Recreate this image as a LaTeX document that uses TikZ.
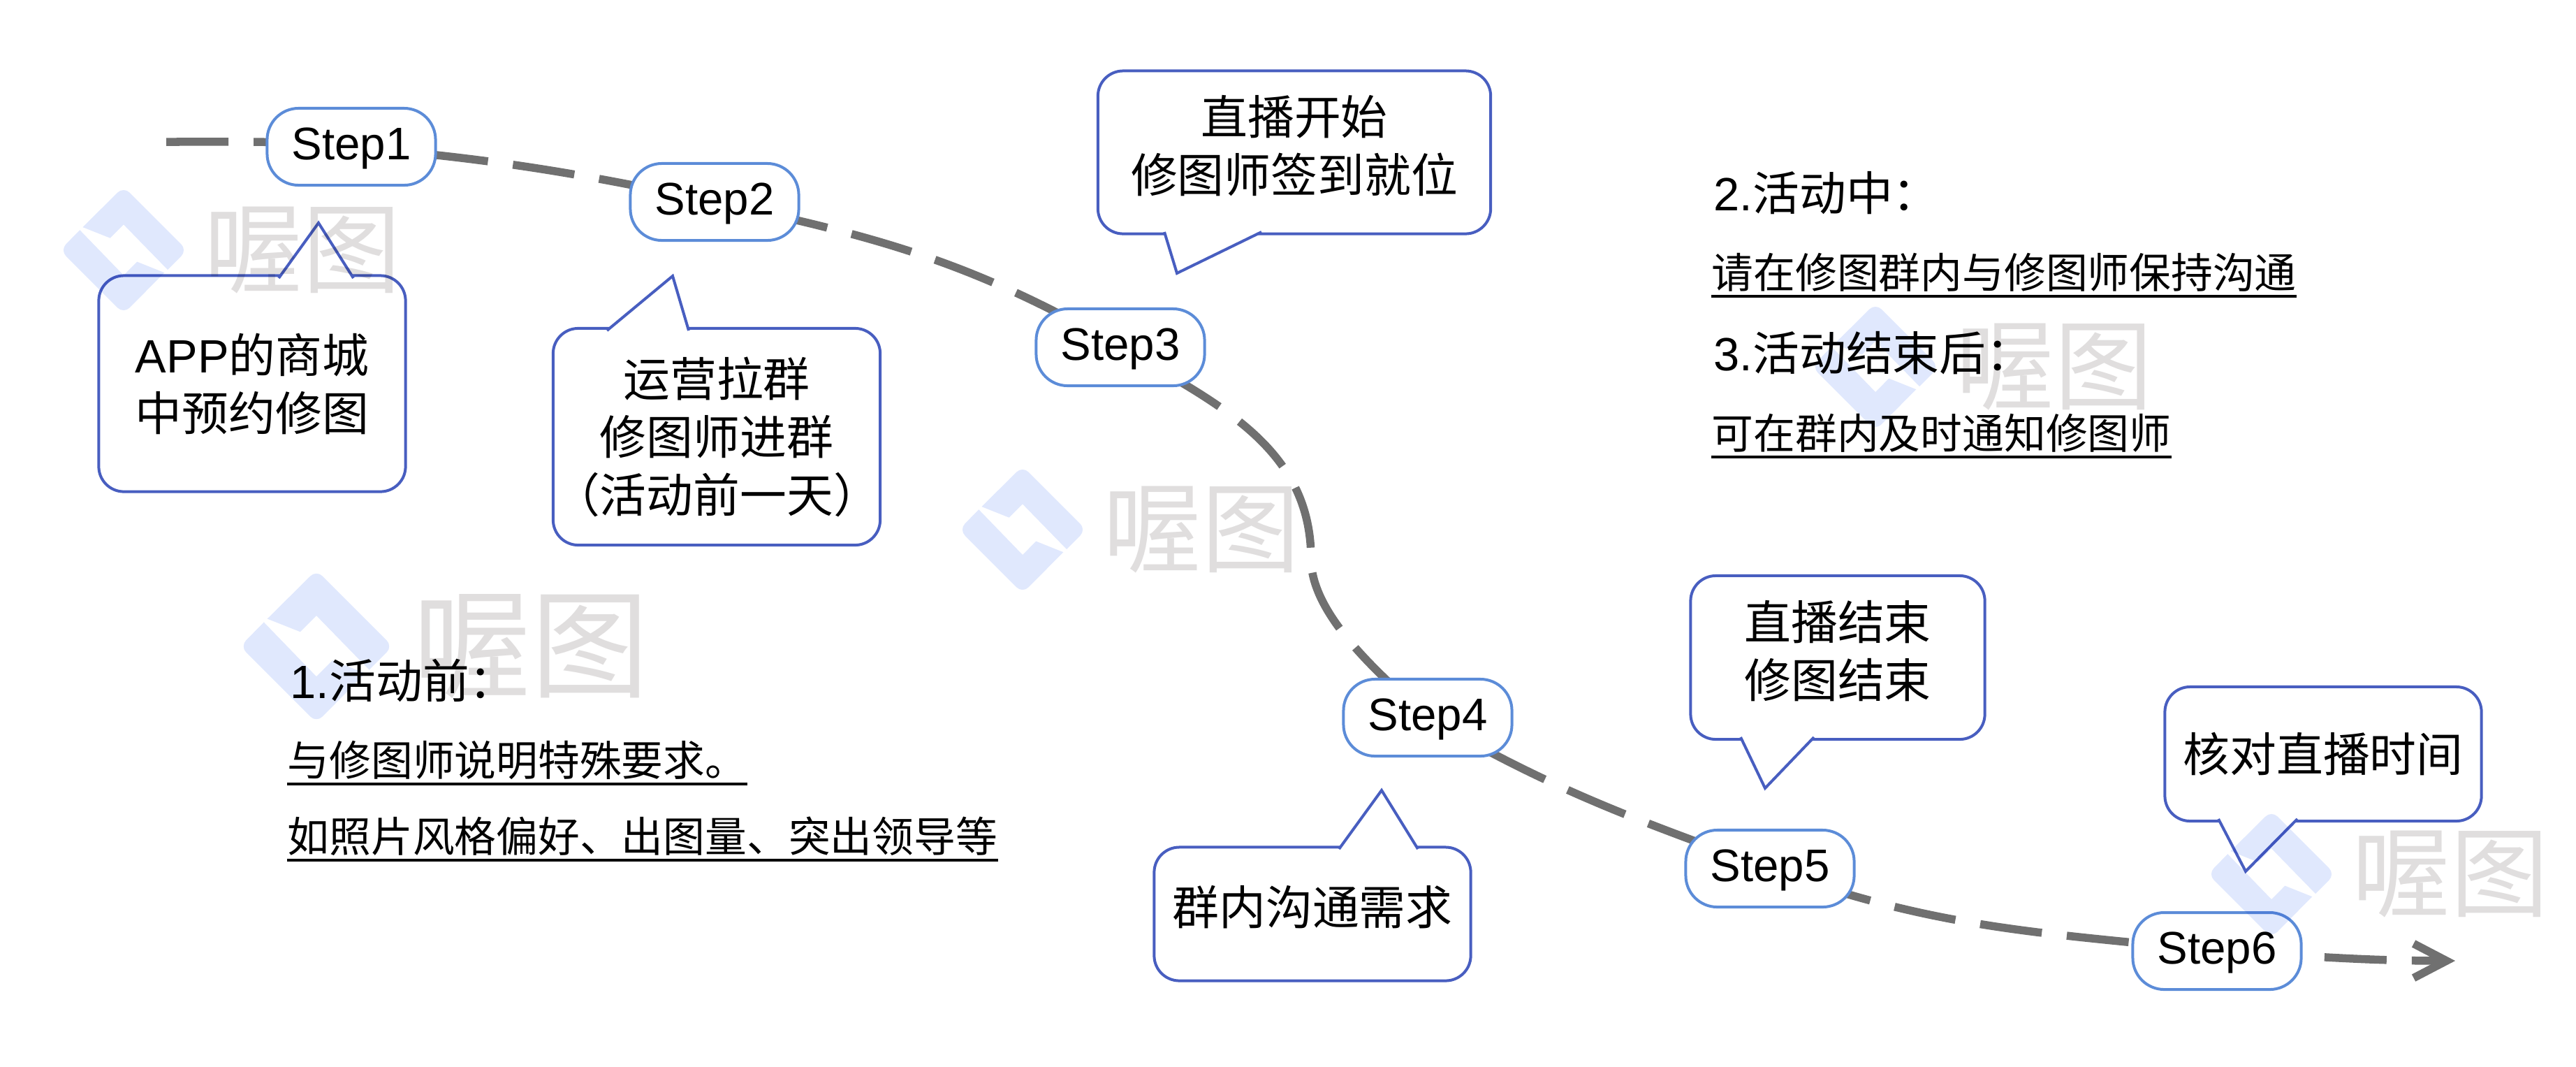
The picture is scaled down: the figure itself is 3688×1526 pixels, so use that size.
\documentclass[tikz,border=0pt]{standalone}
\usepackage{fontspec}
\usetikzlibrary{arrows.meta, backgrounds}
\setmainfont{Liberation Sans}
\newfontfamily\latn{Liberation Sans}
\newfontfamily\cjk{Noto Sans CJK SC}
\definecolor{stepBlue}{RGB}{92,140,216}
\definecolor{noteBlue}{RGB}{72,94,192}
\definecolor{trackGray}{RGB}{112,112,112}
\definecolor{markBlue}{RGB}{224,232,253}
\definecolor{markGray}{RGB}{224,222,222}

\begin{document}
\begin{tikzpicture}[
    x=0.01cm, y=0.01cm,
    stepbox/.style={rectangle, draw=stepBlue, line width=0.04cm, fill=white, rounded corners=0.45cm, minimum width=2.41cm, minimum height=1.10cm, inner sep=0pt, text height=0.51cm, font=\latn\fontsize{18.6}{22}\selectfont},
    notebox/.style={rectangle, draw=noteBlue, line width=0.04cm, fill=white, rounded corners=0.36cm, align=center, inner sep=0pt, font=\cjk\fontsize{19}{23.6}\selectfont},
    notetip/.style={draw=noteBlue, line width=0.04cm, fill=white, line join=miter},
    track/.style={draw=trackGray, line width=0.115cm, dash pattern=on 0.89cm off 0.36cm},
    notehead/.style={anchor=base west, inner sep=0pt, font=\cjk\fontsize{19}{23}\selectfont},
    noteline/.style={anchor=base west, inner sep=0pt, text depth=0.115cm, font=\cjk\fontsize{17}{20}\selectfont},
    noterule/.style={draw=black, line width=0.04cm},
    markname/.style={inner sep=0pt, text=markGray, transform shape, font=\cjk\fontsize{40}{41}\selectfont}
]
\useasboundingbox (0,-1526) rectangle (3688,0);

% steps
\node[stepbox] (s1) at (503,-210) {Step1};
\node[stepbox] (s2) at (1023,-289) {Step2};
\node[stepbox] (s3) at (1604,-497) {Step3};
\node[stepbox] (s4) at (2044,-1027) {Step4};
\node[stepbox] (s5) at (2534,-1243) {Step5};
\node[stepbox] (s6) at (3174,-1361) {Step6};

% the dashed curve runs behind the steps
\coordinate (start) at (238,-203);
\coordinate (bend) at (1877,-800);
\coordinate (stop) at (3515,-1375);
\begin{scope}[on background layer]
\draw[track] (start) to[out=0,in=175] (s1.center);
\draw[track, dash phase=0.174cm] (s1.center) to[out=-5,in=168] (s2.center);
\draw[track, dash phase=0.487cm] (s2.center) to[out=-12,in=150] (s3.center);
\draw[track, dash phase=0.49cm] (s3.center) to[out=-30,in=90] (bend) to[out=-90,in=138,looseness=0.75] (s4.center);
\draw[track, dash phase=0.245cm] (s4.center) to[out=-30,in=160] (s5.center);
\draw[track, dash phase=0.634cm] (s5.center) to[out=-20,in=174] (s6.center);
\draw[track, dash phase=0.96cm, -{Straight Barb[length=0.47cm,width=0.49cm]}] (s6.center) to[out=-3,in=180] (stop);
\end{scope}

% notes
\node[notebox, minimum width=4.39cm, minimum height=3.09cm] (n1) at (361,-549) {{\latn APP}的商城\\中预约修图};
\filldraw[notetip] (399,-398) -- (456,-319) -- (506,-398);
\node[notebox, minimum width=4.68cm, minimum height=3.10cm] (n2) at (1026,-625) {运营拉群\\修图师进群\\（活动前一天）};
\filldraw[notetip] (869,-473) -- (963,-395) -- (986,-473);
\node[notebox, minimum width=5.62cm, minimum height=2.33cm, text depth=0.24cm] (n3) at (1853,-218) {直播开始\\修图师签到就位};
\filldraw[notetip] (1667,-332) -- (1685,-391) -- (1806,-332);
\node[notebox, minimum width=4.53cm, minimum height=1.91cm, text depth=0.25cm] (n4) at (1879,-1308) {群内沟通需求};
\filldraw[notetip] (1917,-1215) -- (1978,-1131) -- (2030,-1215);
\node[notebox, minimum width=4.21cm, minimum height=2.34cm, text depth=0.24cm] (n5) at (2631,-941) {直播结束\\修图结束};
\filldraw[notetip] (2492,-1055) -- (2527,-1128) -- (2597,-1055);
\node[notebox, minimum width=4.53cm, minimum height=1.92cm] (n6) at (3326,-1079) {核对直播时间};
\filldraw[notetip] (3176,-1172) -- (3215,-1247) -- (3289,-1172);

% stage texts
\node[notehead] (h1) at (415,-999) {{\latn 1.}活动前：};
\node[noteline] (l1) at (411,-1110) {与修图师说明特殊要求。};
\node[noteline] (l2) at (411,-1219) {如照片风格偏好、出图量、突出领导等};
\node[notehead] (h2) at (2453,-301) {{\latn 2.}活动中：};
\node[noteline] (l3) at (2450,-412) {请在修图群内与修图师保持沟通};
\node[notehead] (h3) at (2453,-530) {{\latn 3.}活动结束后：};
\node[noteline] (l4) at (2450,-642) {可在群内及时通知修图师};
\draw[noterule] (l1.south west) -- (l1.south east);
\draw[noterule] (l2.south west) -- (l2.south east);
\draw[noterule] (l3.south west) -- (l3.south east);
\draw[noterule] (l4.south west) -- (l4.south east);

% marks printed over everything
\begin{scope}[blend mode=multiply]
\foreach \mx/\my/\ms in {177/358/1, 453/925/1.2, 1464/758/1, 2685/525/1, 3252/1251/1} {
    \begin{scope}[shift={(\mx,-\my)}, scale=\ms]
    \fill[markBlue] (-58.6,32.9) [rounded corners=0.12cm] -- (0,91) -- (91,0) [sharp corners] -- (63,-28) -- (0,36.6) -- (-19.3,17.3) -- cycle;
    \fill[markBlue] (-62.7,28.8) [rounded corners=0.12cm] -- (-91,0) -- (0,-91) [sharp corners] -- (58.3,-32.2) -- (19.3,-16.6) -- (0,-36) -- cycle;
    \node[markname] (mark\mx) at (256,0) {喔图};
    \end{scope}
}
\end{scope}
\end{tikzpicture}
\end{document}
